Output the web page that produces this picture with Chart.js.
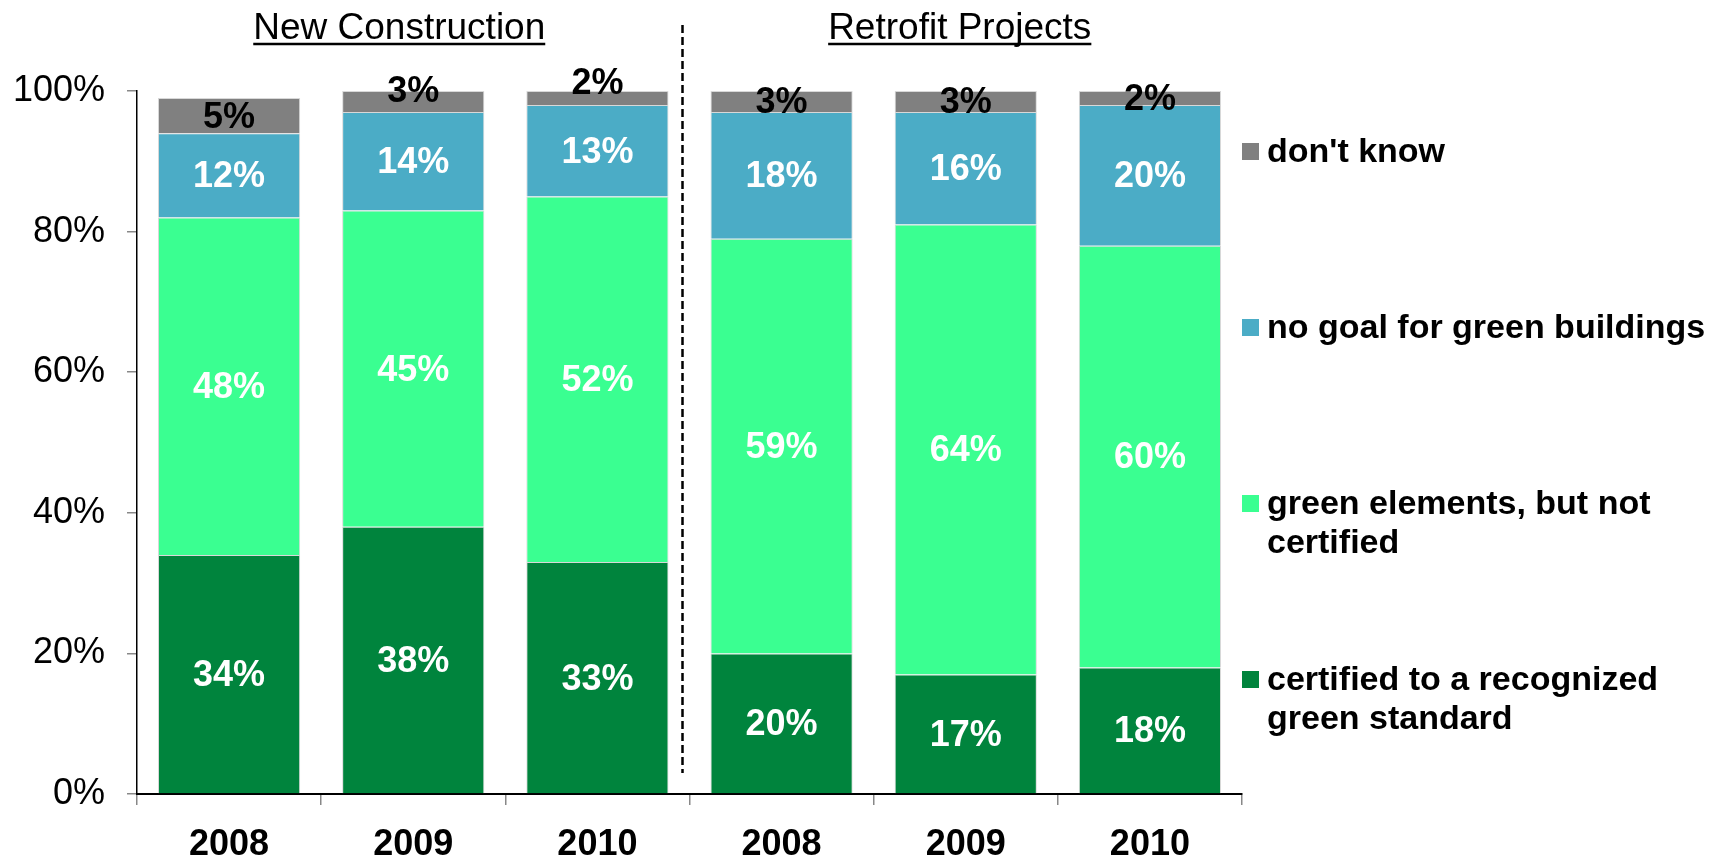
<!DOCTYPE html>
<html>
<head>
<meta charset="utf-8">
<script src="https://cdn.jsdelivr.net/npm/chart.js@4/dist/chart.umd.min.js"></script>
<style>
  html, body { margin: 0; padding: 0; background: #fff; }
  #wrap { width: 1724px; height: 866px; position: relative; }
</style>
</head>
<body>
<div id="wrap"><canvas id="greenChart"></canvas></div>
<script>
const categories = ['2008', '2009', '2010', '2008', '2009', '2010'];
const certified = [34, 38, 33, 20, 17, 18];
const greenElements = [48, 45, 52, 59, 64, 60];
const noGoal = [12, 14, 13, 18, 16, 20];
const dontKnow = [5, 3, 2, 3, 3, 2];
const yTicks = [0, 20, 40, 60, 80, 100];
const groupTitles = ['New Construction', 'Retrofit Projects'];
const legendLines = [
    ["don't know"],
    ['no goal for green buildings'],
    ['green elements, but not', 'certified'],
    ['certified to a recognized', 'green standard']
];

const FONT = "'Liberation Sans', Arial, Helvetica, sans-serif";
const colors = {
    certified: '#00843D',
    green: '#3AFF91',
    noGoal: '#4BACC6',
    dontKnow: '#808080'
};

// values inside the bars, titles, divider and the right-hand legend
const extrasPlugin = {
    id: 'extras',
    afterDatasetsDraw(chart) {
        const ctx = chart.ctx;
        const xs = chart.scales.x;
        const area = chart.chartArea;
        const grayShift = [0, -11, -16, 0, 0, 0];

        ctx.save();
        ctx.textAlign = 'center';
        ctx.textBaseline = 'middle';
        ctx.font = 'bold 36px ' + FONT;
        chart.data.datasets.forEach((ds, i) => {
            const meta = chart.getDatasetMeta(i);
            meta.data.forEach((bar, j) => {
                const p = bar.getProps(['x', 'y', 'base'], true);
                let cy = (p.y + p.base) / 2 + 2;
                if (i === 3) {
                    ctx.fillStyle = '#000';
                    cy += grayShift[j];
                } else {
                    ctx.fillStyle = '#fff';
                }
                ctx.fillText(ds.data[j] + '%', p.x, cy);
            });
        });

        // group titles
        ctx.fillStyle = '#000';
        ctx.strokeStyle = '#000';
        ctx.font = '37px ' + FONT;
        ctx.textBaseline = 'alphabetic';
        const titleX = [xs.getPixelForValue(1) - 14, xs.getPixelForValue(4) - 6];
        groupTitles.forEach((t, k) => {
            ctx.fillText(t, titleX[k], 39);
            const w = ctx.measureText(t).width;
            ctx.lineWidth = 2.5;
            ctx.beginPath();
            ctx.moveTo(titleX[k] - w / 2, 44);
            ctx.lineTo(titleX[k] + w / 2, 44);
            ctx.stroke();
        });

        // dashed divider
        const divX = (xs.getPixelForValue(2) + xs.getPixelForValue(3)) / 2 - 7;
        ctx.setLineDash([8, 4]);
        ctx.lineWidth = 2.5;
        ctx.beginPath();
        ctx.moveTo(divX, 25);
        ctx.lineTo(divX, 773);
        ctx.stroke();
        ctx.setLineDash([]);

        // legend
        const swatch = [colors.dontKnow, colors.noGoal, colors.green, colors.certified];
        const legendY = [151, 327, 503, 679];
        const boxX = area.right;
        ctx.font = 'bold 34px ' + FONT;
        ctx.textAlign = 'left';
        ctx.textBaseline = 'middle';
        legendLines.forEach((lines, k) => {
            ctx.fillStyle = swatch[k];
            ctx.fillRect(boxX, legendY[k] - 8, 17, 17);
            ctx.fillStyle = '#000';
            lines.forEach((line, n) => {
                ctx.fillText(line, boxX + 25, legendY[k] + 2 + n * 39);
            });
        });
        ctx.restore();
    }
};

const ctx = document.getElementById('greenChart').getContext('2d');
new Chart(ctx, {
    type: 'bar',
    data: {
        labels: categories,
        datasets: [
            { label: 'certified to a recognized green standard', data: certified, backgroundColor: colors.certified },
            { label: 'green elements, but not certified', data: greenElements, backgroundColor: colors.green },
            { label: 'no goal for green buildings', data: noGoal, backgroundColor: colors.noGoal },
            { label: "don't know", data: dontKnow, backgroundColor: colors.dontKnow }
        ]
    },
    options: {
        responsive: true,
        maintainAspectRatio: false,
        animation: false,
        layout: { padding: { top: 91, right: 482, left: 0, bottom: 0 } },
        datasets: {
            bar: {
                barPercentage: 0.772,
                categoryPercentage: 1,
                borderWidth: 1,
                borderColor: '#d8d8d8'
            }
        },
        plugins: {
            legend: { display: false },
            tooltip: { enabled: false }
        },
        scales: {
            x: {
                stacked: true,
                grid: {
                    display: true,
                    drawOnChartArea: false,
                    drawTicks: true,
                    tickLength: 11,
                    color: '#888',
                    lineWidth: 1.5
                },
                border: { display: true, color: '#000', width: 2 },
                ticks: {
                    color: '#000',
                    padding: 22,
                    font: { family: FONT, size: 36, weight: 'bold', lineHeight: 1 }
                },
                afterFit(scale) { scale.height = 72; }
            },
            y: {
                stacked: true,
                min: 0,
                max: 100,
                grid: {
                    display: true,
                    drawOnChartArea: false,
                    drawTicks: true,
                    tickLength: 10,
                    color: '#888',
                    lineWidth: 1.5
                },
                border: { display: true, color: '#000', width: 1.5 },
                ticks: {
                    color: '#000',
                    padding: 22,
                    font: { family: FONT, size: 36, lineHeight: 1 },
                    callback: v => v + '%'
                },
                afterBuildTicks(scale) {
                    scale.ticks = yTicks.map(v => ({ value: v }));
                },
                afterFit(scale) { scale.width = 137; }
            }
        }
    },
    plugins: [extrasPlugin]
});
</script>
</body>
</html>
